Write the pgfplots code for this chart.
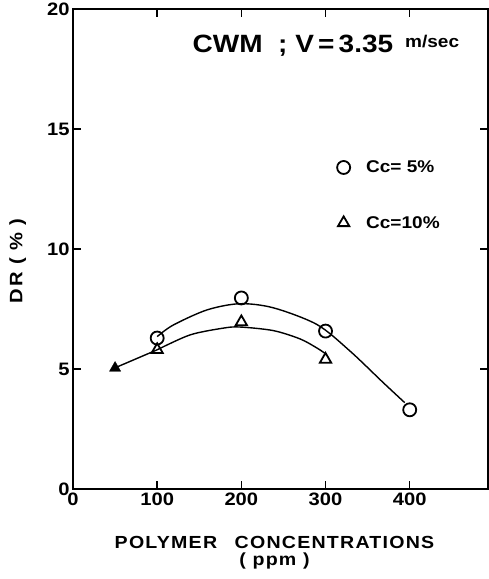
\documentclass[border=0pt]{standalone}
\usepackage{fontspec}
\setmainfont{Liberation Sans}[FakeStretch=1.12]
\usepackage{pgfplots}
\pgfplotsset{compat=1.18}
\begin{document}
\begin{tikzpicture}
\begin{axis}[name=ax, scale only axis, width=415pt, height=480pt,
  xmin=0, xmax=493, ymin=0, ymax=20,
  xtick={0,100,200,300,400}, ytick={0,5,10,15,20},
  tick align=inside, major tick length=8pt,
  axis line style={line width=2pt},
  every tick/.style={line width=1.5pt, black},
  ticklabel style={font=\bfseries\fontsize{18}{18}\selectfont},
  /pgf/number format/assume math mode=true,
  xlabel={\addfontfeature{LetterSpace=7}POLYMER\quad CONCENTRATIONS\\[-2pt]\addfontfeature{LetterSpace=7}( ppm )},
  xlabel style={align=center, font=\bfseries\fontsize{17.5}{19}\selectfont, yshift=-24pt, xshift=-6pt},
  ylabel={\addfontfeature{LetterSpace=10}DR ( \% )},
  ylabel style={font=\bfseries\fontsize{18}{18}\selectfont, yshift=14pt, xshift=-12pt},
  legend style={at={(axis cs:310,13.85)}, anchor=north west, draw=none, fill=none,
    row sep=38pt, font=\bfseries\fontsize{17}{17}\selectfont},
  legend cell align=left,
]
% fitted curves
\addplot[black, line width=1.4pt, smooth, forget plot] coordinates {
 (100,6.35) (119,6.83) (159,7.46) (198,7.72) (238,7.55) (290,6.85) (329,5.75) (368,4.45) (394,3.6)};
\addplot[black, line width=1.4pt, smooth, forget plot] coordinates {
 (100,5.8) (139,6.42) (178,6.7) (198,6.75) (238,6.6) (270,6.25) (290,5.87) (299,5.66)};
\addplot[black, line width=1.4pt, forget plot] coordinates {(50,5.05) (100,5.8)};
% data
\addplot[only marks, mark=o, mark size=6.5pt, mark options={line width=1.8pt, fill=white}, black]
 coordinates {(100,6.29) (200,7.96) (300,6.58) (400,3.3)};
\addlegendentry{\hspace{14pt}Cc= 5\%}
\addplot[only marks, mark=triangle, mark size=6.5pt, mark options={line width=1.8pt, fill=white}, black]
 coordinates {(100,5.8) (200,6.96) (300,5.4)};
\addlegendentry{\hspace{14pt}Cc=10\%}
\addplot[only marks, mark=triangle*, mark size=6.5pt, black, forget plot]
 coordinates {(50,5.04)};
\node[anchor=base west, font=\bfseries\fontsize{25}{25}\selectfont, inner sep=0pt] at (axis cs:142,18.2)
 {CWM\ \ ; V\,=\,3.35\, \raisebox{5pt}{\fontsize{17}{17}\selectfont m/sec}};
\end{axis}
\pgfresetboundingbox
\path ([xshift=-73pt,yshift=-90pt]ax.south west) rectangle ([xshift=1pt,yshift=9pt]ax.north east);
\end{tikzpicture}
\end{document}
